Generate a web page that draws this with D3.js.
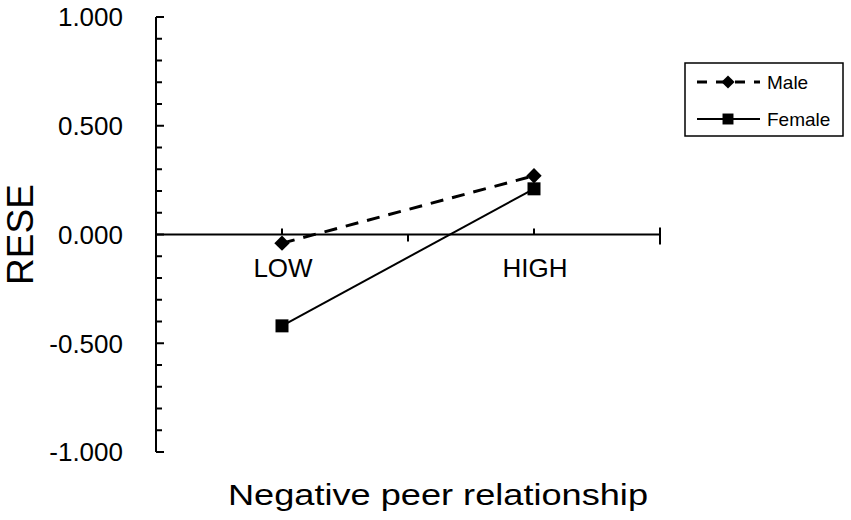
<!DOCTYPE html>
<html>
<head>
<meta charset="utf-8">
<script src="https://cdn.jsdelivr.net/npm/d3@7"></script>
<style>
  html, body { margin: 0; padding: 0; background: #fff; }
  svg { display: block; font-family: "Liberation Sans", Arial, sans-serif; }
</style>
</head>
<body>
<svg id="chart" width="851" height="520"></svg>
<script>
const categories = ["LOW", "HIGH"];
const seriesNames = ["Male", "Female"];
const maleValues = [-0.04, 0.27];
const femaleValues = [-0.42, 0.21];
const yTickValues = [1, 0.5, 0, -0.5, -1];
const yTickLabels = ["1.000", "0.500", "0.000", "-0.500", "-1.000"];
const yMinorTicks = d3.range(-10, 11).map(d => d / 10);
const xTitle = "Negative peer relationship";
const yTitle = "RESE";

(function () {
const svg = d3.select("#chart");
const pLeft = 156, pRight = 660, pTop = 17, pBottom = 452;

const x = d3.scalePoint().domain(categories).range([pLeft, pRight]).padding(0.5);
const y = d3.scaleLinear().domain([-1, 1]).range([pBottom, pTop]);

// Y axis line
svg.append("line").attr("x1", pLeft).attr("x2", pLeft).attr("y1", y(1)).attr("y2", y(-1))
  .attr("stroke", "#000").attr("stroke-width", 2);
// y ticks (inside, to the right)
svg.selectAll(".ytick").data(yMinorTicks).enter().append("line")
  .attr("x1", pLeft).attr("x2", d => (Math.round(Math.abs(d * 10)) % 5 === 0 ? pLeft + 8 : pLeft + 6))
  .attr("y1", d => y(d)).attr("y2", d => y(d))
  .attr("stroke", "#000").attr("stroke-width", 2);

// y tick labels
svg.selectAll(".ylab").data(yTickValues).enter().append("text")
  .attr("x", 123).attr("y", d => y(d)).attr("dy", "0.36em")
  .attr("text-anchor", "end").attr("font-size", 26).attr("fill", "#000")
  .text((d, i) => yTickLabels[i]);

// X axis at zero
const y0 = y(0);
svg.append("line").attr("x1", pLeft).attr("x2", pRight).attr("y1", y0).attr("y2", y0)
  .attr("stroke", "#000").attr("stroke-width", 2);
// category ticks (up)
svg.selectAll(".xtick").data(categories).enter().append("line")
  .attr("x1", d => x(d)).attr("x2", d => x(d)).attr("y1", y0).attr("y2", y0 - 6)
  .attr("stroke", "#000").attr("stroke-width", 2);
// boundary tick (down)
const mid = (x(categories[0]) + x(categories[1])) / 2;
svg.append("line").attr("x1", mid).attr("x2", mid).attr("y1", y0).attr("y2", y0 + 7)
  .attr("stroke", "#000").attr("stroke-width", 2);
// end tick
svg.append("line").attr("x1", pRight).attr("x2", pRight).attr("y1", y0 - 7).attr("y2", y0 + 10)
  .attr("stroke", "#000").attr("stroke-width", 2);

// category labels
svg.selectAll(".xlab").data(categories).enter().append("text")
  .attr("x", d => x(d) + 1).attr("y", 268).attr("dy", "0.36em")
  .attr("text-anchor", "middle").attr("font-size", 26).attr("fill", "#000")
  .text(d => d);

// Lines
const line = d3.line().x((d, i) => x(categories[i])).y(d => y(d));
svg.append("path").datum(maleValues).attr("d", line)
  .attr("fill", "none").attr("stroke", "#000").attr("stroke-width", 3)
  .attr("stroke-dasharray", "13,9");
svg.selectAll(".mpt").data(maleValues).enter().append("path")
  .attr("d", d3.symbol().type(d3.symbolDiamond2).size(150)())
  .attr("transform", (d, i) => `translate(${x(categories[i])},${y(d)})`)
  .attr("fill", "#000");

svg.append("path").datum(femaleValues).attr("d", line)
  .attr("fill", "none").attr("stroke", "#000").attr("stroke-width", 2);
svg.selectAll(".fpt").data(femaleValues).enter().append("path")
  .attr("d", d3.symbol().type(d3.symbolSquare).size(169)())
  .attr("transform", (d, i) => `translate(${x(categories[i])},${y(d)})`)
  .attr("fill", "#000");

// Axis titles
svg.append("text").attr("x", 438).attr("y", 505)
  .attr("text-anchor", "middle").attr("font-size", 30).attr("fill", "#000")
  .attr("textLength", 420).attr("lengthAdjust", "spacingAndGlyphs")
  .text(xTitle);
svg.append("text").attr("transform", `translate(33,${(pTop + pBottom) / 2}) rotate(-90)`)
  .attr("text-anchor", "middle").attr("font-size", 37).attr("fill", "#000")
  .text(yTitle);

// Legend
const lg = svg.append("g");
lg.append("rect").attr("x", 685).attr("y", 63).attr("width", 158).attr("height", 73)
  .attr("fill", "#fff").attr("stroke", "#000").attr("stroke-width", 1.5);
const rows = [
  { name: seriesNames[0], y: 82, dash: "10,9", sw: 3, sym: d3.symbolDiamond2, size: 110 },
  { name: seriesNames[1], y: 119, dash: null, sw: 2, sym: d3.symbolSquare, size: 120 }
];
rows.forEach(r => {
  const l = lg.append("line").attr("x1", 697).attr("x2", 760).attr("y1", r.y).attr("y2", r.y)
    .attr("stroke", "#000").attr("stroke-width", r.sw);
  if (r.dash) l.attr("stroke-dasharray", r.dash);
  lg.append("path").attr("d", d3.symbol().type(r.sym).size(r.size)())
    .attr("transform", `translate(728,${r.y})`).attr("fill", "#000");
  lg.append("text").attr("x", 767).attr("y", r.y).attr("dy", "0.36em")
    .attr("font-size", 19).attr("fill", "#000").text(r.name);
});
})();
</script>
</body>
</html>
